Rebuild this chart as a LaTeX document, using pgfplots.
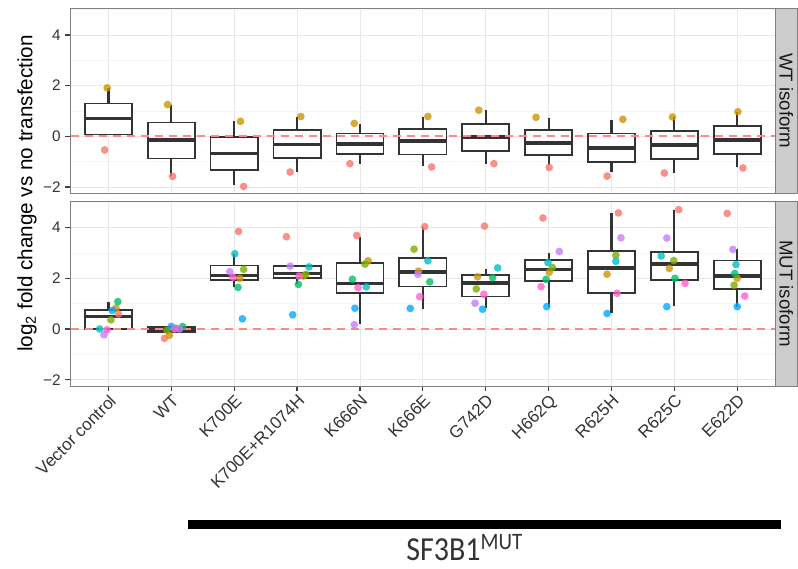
\documentclass[border=0pt]{standalone}
\usepackage{fontspec}
\setmainfont{Liberation Sans}
\newfontfamily\calibri{Carlito}
\usepackage{pgfplots}
\pgfplotsset{compat=1.18}
\usepgfplotslibrary{statistics}

% ggplot-style hue palette, one colour per replicate
\definecolor{cSalmon}{HTML}{F8766D}
\definecolor{cGold}{HTML}{CD9600}
\definecolor{cOlive}{HTML}{7CAE00}
\definecolor{cGreen}{HTML}{00BE67}
\definecolor{cCyan}{HTML}{00BFC4}
\definecolor{cBlue}{HTML}{00A9FF}
\definecolor{cViolet}{HTML}{C77CFF}
\definecolor{cPink}{HTML}{FF61CC}
\definecolor{boxc}{HTML}{333333}

% one box: position, lower whisker, Q1, median, Q3, upper whisker
% (whiskers as plain segments, box and median as a prepared boxplot)
\newcommand{\bx}[6]{%
  \addplot[boxc, line width=1.6pt, line cap=butt] coordinates {(#1,#2) (#1,#3)};
  \addplot[boxc, line width=1.6pt, line cap=butt] coordinates {(#1,#5) (#1,#6)};
  \addplot[boxplot prepared={draw direction=y, draw position=#1, lower whisker=#3,
      lower quartile=#3, median=#4, upper quartile=#5, upper whisker=#5,
      box extend=0.75, whisker extend=0},
    draw=boxc, fill=white, line width=1.3pt, solid] coordinates {};}

\pgfplotsset{
  panel/.style={
    scale only axis, width=528.2pt, height=138.75pt,
    xmin=0.4, xmax=11.6, ymin=-2.25, ymax=5.05,
    xtick={1,...,11}, ytick={-2,0,2,4}, minor ytick={-1,1,3,5},
    yticklabels={−2,0,2,4},
    grid=both,
    major grid style={draw=black!9, line width=0.6pt},
    minor grid style={draw=black!4, line width=0.4pt},
    axis line style={draw=black!50, line width=0.6pt},
    tick align=outside, tick pos=left,
    major tick length=4pt, minor tick length=0pt,
    every tick/.style={black!75, line width=0.9pt},
    yticklabel style={font=\fontsize{11.5}{13}\selectfont, text=black!80},
    boxplot/every median/.style={line width=2.8pt},
  },
  pts/.style={only marks, mark=*, mark size=2.9pt,
    mark options={fill=#1, fill opacity=0.8, draw opacity=0}},
  zero/.style={draw=cSalmon!85, line width=1.3pt, dash pattern=on 6.5pt off 4pt},
}

\begin{document}
\begin{tikzpicture}
\fill[white] (0,0) rectangle (598.5pt,-426pt);
\useasboundingbox (0,0) rectangle (598.5pt,-426pt);

% ---------- WT isoform ----------
\begin{axis}[panel, at={(53.03pt,-6.23pt)}, anchor=north west,
  xticklabels={}, xtick style={draw=none}]
\bx{1}{0.07}{0.07}{0.70}{1.29}{1.91}
\bx{2}{-1.58}{-0.88}{-0.16}{0.54}{1.25}
\bx{3}{-1.94}{-1.34}{-0.68}{-0.04}{0.59}
\bx{4}{-1.41}{-0.86}{-0.32}{0.24}{0.76}
\bx{5}{-1.08}{-0.70}{-0.29}{0.11}{0.50}
\bx{6}{-1.17}{-0.72}{-0.19}{0.30}{0.76}
\bx{7}{-1.08}{-0.57}{-0.03}{0.49}{1.03}
\bx{8}{-1.13}{-0.75}{-0.26}{0.24}{0.71}
\bx{9}{-1.41}{-1.01}{-0.45}{0.11}{0.66}
\bx{10}{-1.44}{-0.91}{-0.34}{0.20}{0.76}
\bx{11}{-1.21}{-0.70}{-0.16}{0.41}{0.96}
\addplot[zero] coordinates {(0.4,0) (11.6,0)};
\addplot[pts=cSalmon] coordinates {(0.94,-0.54)(2.02,-1.58)(3.15,-1.98)(3.89,-1.41)(4.84,-1.08)(6.14,-1.21)(7.13,-1.08)(8.01,-1.23)(8.93,-1.57)(9.84,-1.45)(11.09,-1.25)};
\addplot[pts=cGold] coordinates {(0.98,1.91)(1.94,1.25)(3.10,0.59)(4.06,0.78)(4.91,0.51)(6.08,0.78)(6.89,1.03)(7.80,0.75)(9.18,0.67)(9.97,0.76)(11.01,0.97)};
\end{axis}

% ---------- MUT isoform ----------
\begin{axis}[panel, at={(53.03pt,-150.75pt)}, anchor=north west,
  xticklabels={Vector control, WT, K700E, K700E+R1074H, K666N, K666E, G742D, H662Q, R625H, R625C, E622D},
  xticklabel style={rotate=45, anchor=north east, inner sep=1pt,
    font=\fontsize{12.8}{14}\selectfont, text=black!80}]
\bx{1}{0.0}{0.0}{0.49}{0.76}{1.08}
\bx{2}{-0.12}{-0.12}{0.0}{0.10}{0.10}
\bx{3}{1.67}{1.93}{2.11}{2.50}{2.97}
\bx{4}{1.76}{2.00}{2.19}{2.48}{2.48}
\bx{5}{0.20}{1.41}{1.80}{2.61}{3.62}
\bx{6}{0.79}{1.68}{2.24}{2.79}{4.04}
\bx{7}{0.81}{1.28}{1.81}{2.14}{2.36}
\bx{8}{0.88}{1.90}{2.35}{2.72}{3.01}
\bx{9}{0.63}{1.41}{2.41}{3.08}{4.56}
\bx{10}{0.91}{1.93}{2.56}{3.05}{4.70}
\bx{11}{0.88}{1.59}{2.09}{2.70}{3.14}
\addplot[zero] coordinates {(0.4,0) (11.6,0)};
\addplot[pts=cSalmon] coordinates {(1.16,0.59)(1.89,-0.37)(3.07,3.85)(3.83,3.64)(4.95,3.69)(6.03,4.04)(6.98,4.06)(7.91,4.38)(9.11,4.58)(10.07,4.71)(10.84,4.56)};
\addplot[pts=cGold] coordinates {(1.12,0.82)(1.97,-0.25)(3.09,2.00)(4.10,2.09)(5.13,2.69)(5.93,2.28)(6.87,2.06)(8.01,2.24)(8.93,2.16)(9.92,2.39)(11.00,2.00)};
\addplot[pts=cOlive] coordinates {(1.04,0.36)(1.93,-0.05)(3.15,2.35)(4.14,2.16)(5.08,2.56)(5.86,3.15)(6.85,1.58)(8.06,2.43)(9.07,2.91)(9.99,2.70)(10.95,1.73)};
\addplot[pts=cGreen] coordinates {(1.15,1.08)(2.18,0.10)(3.06,1.64)(4.02,1.76)(4.88,1.96)(6.11,1.86)(7.11,2.02)(7.96,1.96)(10.01,2.00)(10.96,2.19)};
\addplot[pts=cCyan] coordinates {(0.86,0.0)(2.07,0.03)(3.01,2.97)(4.19,2.45)(5.10,1.66)(6.08,2.69)(7.19,2.41)(7.99,2.62)(9.07,2.67)(9.79,2.88)(10.98,2.54)};
\addplot[pts=cBlue] coordinates {(1.06,0.73)(2.00,0.10)(3.13,0.40)(3.93,0.56)(4.92,0.82)(5.80,0.81)(6.95,0.78)(7.97,0.88)(8.93,0.61)(9.88,0.88)(11.00,0.88)};
\addplot[pts=cViolet] coordinates {(0.93,-0.23)(2.13,0.0)(2.93,2.26)(3.89,2.48)(4.91,0.17)(5.92,2.16)(6.83,1.02)(8.17,3.06)(9.15,3.60)(9.88,3.59)(10.93,3.14)};
\addplot[pts=cPink] coordinates {(0.98,-0.03)(2.05,0.0)(2.98,2.04)(4.03,2.09)(4.97,1.63)(5.95,1.28)(6.97,1.37)(7.88,1.67)(9.09,1.41)(10.17,1.80)(11.12,1.30)};
\end{axis}

% facet strips
\draw[fill=black!20, draw=black!50, line width=0.6pt] (581.25pt,-6.23pt) rectangle (598.1pt,-144.98pt);
\node[rotate=-90, font=\fontsize{14}{16}\selectfont, text=black!90] at (589.7pt,-75.6pt) {WT isoform};
\draw[fill=black!20, draw=black!50, line width=0.6pt] (581.25pt,-150.75pt) rectangle (598.1pt,-289.5pt);
\node[rotate=-90, font=\fontsize{14}{16}\selectfont, text=black!90] at (589.7pt,-220.1pt) {MUT isoform};

% shared y-axis title
\node[rotate=90, font=\fontsize{15.5}{17}\selectfont] at (20.25pt,-145pt) {log\textsubscript{2} fold change vs no transfection};

% bracket under the mutant constructs
\fill[black] (141pt,-390pt) rectangle (585.75pt,-396.4pt);
\node[anchor=base west, inner sep=0pt, font=\calibri\fontsize{22.5}{24}\selectfont, text=black!80]
  at (304.5pt,-420.5pt) {\scalebox{1}[1.12]{SF3B1\textsuperscript{MUT}}};
\end{tikzpicture}
\end{document}
